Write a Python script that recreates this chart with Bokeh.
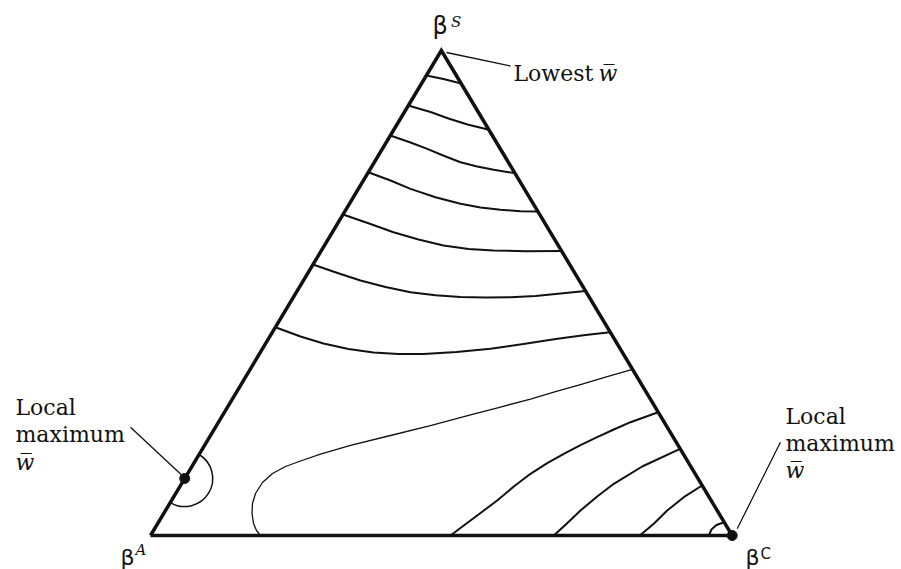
from bokeh.plotting import figure
from bokeh.models import Range1d, Label
from bokeh.embed import file_html
from bokeh.resources import INLINE

# Ternary frame: x runs along the base from beta-A (0) to beta-C (1),
# y is the beta-S share (0 at the base, 1 at the apex).
vertex_x = [0.0, 1.0, 0.5]
vertex_y = [0.0, 0.0, 1.0]

# Mean-fitness (w-bar) contours, upper family (beta-S side)
iso1_x = [0.4743, 0.5037, 0.5340]
iso1_y = [0.9485, 0.9412, 0.9320]
iso2_x = [0.4430, 0.4814, 0.5123, 0.5450, 0.5817]
iso2_y = [0.8866, 0.8732, 0.8598, 0.8474, 0.8365]
iso3_x = [0.4122, 0.4470, 0.4757, 0.5042, 0.5329, 0.5616, 0.5902, 0.6265]
iso3_y = [0.8247, 0.8103, 0.7973, 0.7829, 0.7697, 0.7608, 0.7540, 0.7470]
iso4_x = [0.3744, 0.4126, 0.4470, 0.4899, 0.5329, 0.5673, 0.6017, 0.6361, 0.6660]
iso4_y = [0.7491, 0.7320, 0.7148, 0.6975, 0.6839, 0.6763, 0.6715, 0.6687, 0.6680]
iso5_x = [0.3310, 0.3782, 0.4177, 0.4607, 0.5037, 0.5467, 0.5897, 0.6447, 0.7066]
iso5_y = [0.6619, 0.6423, 0.6254, 0.6103, 0.5979, 0.5907, 0.5876, 0.5862, 0.5866]
iso6_x = [0.2792, 0.3215, 0.3610, 0.4040, 0.4470, 0.4899, 0.5329, 0.5759,
          0.6189, 0.6619, 0.7048, 0.7478]
iso6_y = [0.5588, 0.5412, 0.5258, 0.5124, 0.5016, 0.4953, 0.4918, 0.4907,
          0.4913, 0.4938, 0.4990, 0.5041]
iso7_x = [0.2147, 0.2579, 0.2974, 0.3404, 0.3834, 0.4263, 0.4693, 0.5260,
          0.5845, 0.6412, 0.6997, 0.7478, 0.7903]
iso7_y = [0.4295, 0.4103, 0.3959, 0.3845, 0.3773, 0.3742, 0.3742, 0.3784,
          0.3849, 0.3948, 0.4056, 0.4134, 0.4192]

# Saddle contour running from the beta-C edge back down to the base
iso8_x = [0.8286, 0.7822, 0.7392, 0.6962, 0.6533, 0.6017, 0.5501, 0.4813,
          0.4126, 0.3438, 0.2922, 0.2579, 0.2321, 0.2097, 0.1925, 0.1805,
          0.1753, 0.1745, 0.1771, 0.1822, 0.1891]
iso8_y = [0.3423, 0.3268, 0.3113, 0.2969, 0.2814, 0.2649, 0.2485, 0.2268,
          0.2062, 0.1856, 0.1680, 0.1536, 0.1423, 0.1278, 0.1093, 0.0866,
          0.0660, 0.0454, 0.0247, 0.0103, 0.0000]

# Lower family around the beta-C corner
iso9_x = [0.8728, 0.8252, 0.7965, 0.7679, 0.7392, 0.7105, 0.6820, 0.6533,
          0.6246, 0.5960, 0.5616, 0.5386, 0.5157]
iso9_y = [0.2542, 0.2336, 0.2186, 0.2027, 0.1862, 0.1685, 0.1491, 0.1272,
          0.1010, 0.0722, 0.0412, 0.0206, 0.0000]
iso10_x = [0.9104, 0.8453, 0.7965, 0.7679, 0.7392, 0.7163, 0.6933]
iso10_y = [0.1788, 0.1423, 0.1066, 0.0804, 0.0515, 0.0254, 0.0000]
iso11_x = [0.9483, 0.9168, 0.8883, 0.8652, 0.8412]
iso11_y = [0.1031, 0.0790, 0.0515, 0.0241, 0.0000]
iso12_x = [0.9861, 0.9730, 0.9644, 0.9598]
iso12_y = [0.0274, 0.0216, 0.0124, 0.0000]

# Local maxima of w-bar: on the A-S edge and at the beta-C vertex
max_x = [0.0588, 1.0]
max_y = [0.1175, 0.0]

p = figure(width=901, height=569,
           x_range=Range1d(-0.2579, 1.2911), y_range=Range1d(-0.0701, 1.1031),
           output_backend="svg", toolbar_location=None, min_border=0,
           x_axis_location=None, y_axis_location=None)
p.grid.visible = False
p.outline_line_color = None
p.background_fill_color = "white"
p.border_fill_color = "white"

ink = "#111111"

heavy_xs = [iso1_x, iso2_x, iso3_x, iso4_x, iso5_x, iso6_x, iso7_x,
            iso9_x, iso10_x, iso11_x, iso12_x]
heavy_ys = [iso1_y, iso2_y, iso3_y, iso4_y, iso5_y, iso6_y, iso7_y,
            iso9_y, iso10_y, iso11_y, iso12_y]
p.multi_line(heavy_xs, heavy_ys, line_color=ink, line_width=2.0,
             line_join="round")
p.line(iso8_x, iso8_y, line_color=ink, line_width=1.3, line_join="round")

# Triangle outline
p.line(vertex_x + [vertex_x[0]], vertex_y + [vertex_y[0]],
       line_color=ink, line_width=3.5, line_join="miter")

# Small closed contour around the edge maximum
p.arc(x=[max_x[0]], y=[max_y[0]], radius=28, radius_units="screen",
      start_angle=-120.95, end_angle=59.05,
      start_angle_units="deg", end_angle_units="deg",
      direction="anticlock", line_color=ink, line_width=1.5)

p.scatter(max_x, max_y, size=10, color=ink)

# Leader lines for the callouts
p.segment(x0=[0.5089, -0.0344, 1.0830], y0=[0.9959, 0.2233, 0.1924],
          x1=[0.6189, 0.0545, 1.0086], y1=[0.9680, 0.1237, 0.0138],
          line_color=ink, line_width=1.3)

serif = "DejaVu Serif"
wbar = "w\u0305"


def put(x, y, text, size="22px", font=serif, style="normal"):
    p.add_layout(Label(x=x, y=y, text=text, text_font=font,
                       text_font_size=size, text_font_style=style,
                       text_color=ink, text_baseline="alphabetic",
                       text_align="left"))


# Callout texts
put(0.6240, 0.9520, "Lowest")
put(0.7700, 0.9520, wbar, style="italic")
put(-0.2321, 0.2645, "Local")
put(-0.2321, 0.2076, "maximum")
put(-0.2321, 0.1511, wbar, style="italic")
put(1.0916, 0.2454, "Local")
put(1.0916, 0.1887, "maximum")
put(1.0916, 0.1340, wbar, style="italic")

# Vertex labels
put(0.4850, 1.0500, "\u03b2", size="24px", font="DejaVu Sans")
put(0.5167, 1.0598, "S", size="15px", style="italic")
put(-0.0516, -0.0453, "\u03b2", size="22px", font="DejaVu Sans")
put(-0.0258, -0.0290, "A", size="15px", style="italic")
put(1.0229, -0.0453, "\u03b2", size="22px", font="DejaVu Sans")
put(1.0487, -0.0373, "C", size="15px", font="DejaVu Sans")

open("out.html", "w").write(file_html(p, INLINE))
